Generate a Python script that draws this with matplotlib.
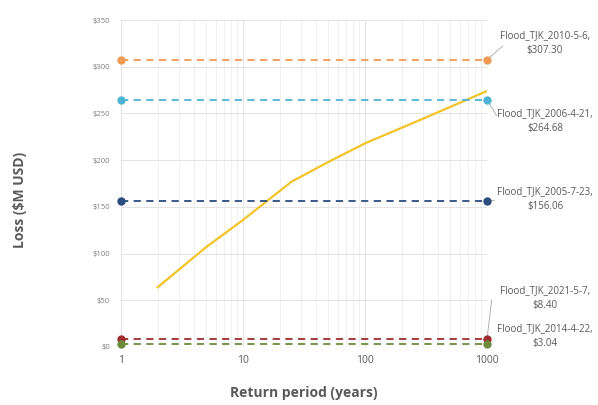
import matplotlib
matplotlib.use("Agg")
import matplotlib.pyplot as plt
from matplotlib.ticker import LogLocator, NullFormatter

# return period curve
rp = [2, 5, 10, 25, 50, 100, 250, 500, 1000]
loss = [64, 107, 136, 177, 198, 218, 240, 257, 274]

# historical events
events = ["Flood_TJK_2010-5-6", "Flood_TJK_2006-4-21", "Flood_TJK_2005-7-23",
          "Flood_TJK_2021-5-7", "Flood_TJK_2014-4-22"]
event_loss = [307.30, 264.68, 156.06, 8.40, 3.04]
event_colors = ["#F09A55", "#4FB3D4", "#2B4C7E", "#9B2D30", "#6E8B3D"]
# label text centre (figure pixels, from top) and leader end point
label_y = [43, 121, 199, 298, 336]
leader_end = [(505, 44), (498, 118), (497, 200), (492, 297), (492, 336)]

plt.rcParams['font.family'] = ['Open Sans', 'DejaVu Sans']
gray = "#595959"

fig = plt.figure(figsize=(5.98, 4.05), dpi=100)
ax = fig.add_axes([121/598, 58/405, 366/598, 327/405])

ax.plot(rp, loss, color="#F2C428", lw=1.6, zorder=3)

for name, v, c, ly, le in zip(events, event_loss, event_colors, label_y, leader_end):
    ax.plot([1, 1000], [v, v], ls=(0, (4, 3)), color=c, lw=1.3, marker="o",
            markersize=5, zorder=4, clip_on=False)
    ax.annotate("", xy=(1000, v), xycoords="data",
                xytext=(le[0], 405 - le[1]), textcoords="figure pixels",
                arrowprops=dict(arrowstyle="-", color="#A6A6A6", lw=0.6))
    fig.text(545/598, 1 - ly/405, f"{name},\n${v:.2f}", ha="center", va="center",
             fontsize=7, color=gray, linespacing=1.5)

ax.set_xscale("log")
ax.set_xlim(1, 1000)
ax.set_ylim(0, 350)
ax.set_xticks([1, 10, 100, 1000])
ax.set_xticklabels(["1", "10", "100", "1000"])
ax.xaxis.set_minor_locator(LogLocator(base=10, subs=range(2, 10)))
ax.xaxis.set_minor_formatter(NullFormatter())
ax.set_yticks(range(0, 351, 50))
ax.set_yticklabels([f"${v}" for v in range(0, 351, 50)])
ax.tick_params(axis="x", labelsize=7.5, colors=gray, length=0, pad=6)
ax.tick_params(axis="x", which="minor", length=0)
ax.tick_params(axis="y", labelsize=5.5, colors="#7F7F7F", length=0, pad=8)

ax.grid(True, which="major", color="#E3E3E3", lw=0.7)
ax.grid(True, which="minor", axis="x", color="#EEEEEE", lw=0.6)
for s in ax.spines.values():
    s.set_visible(False)

ax.set_xlabel("Return period (years)", fontsize=10, fontweight="bold", color=gray, labelpad=14)
fig.text(20/598, 1 - 200/405, "Loss ($M USD)", rotation=90, ha="center", va="center",
         fontsize=10, fontweight="bold", color=gray)

fig.savefig("out.png", dpi=100, facecolor="white")
